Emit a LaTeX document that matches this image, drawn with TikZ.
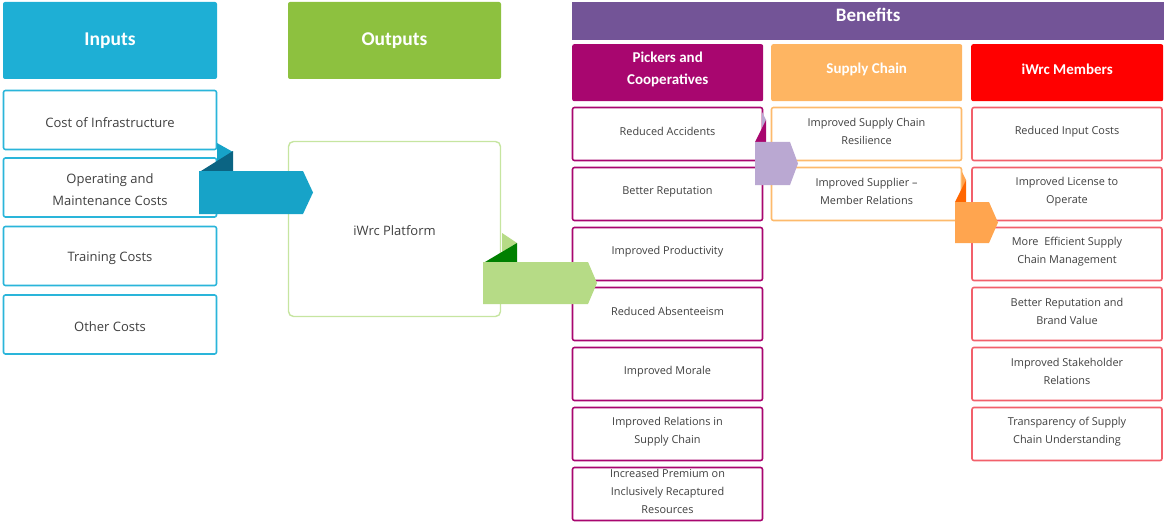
\documentclass[tikz,border=0pt]{standalone}
\usepackage{fontspec}
\setmainfont{Open Sans}
\newfontfamily\headfont{Carlito}
\usepackage{tikz}
\usetikzlibrary{positioning,calc}

\definecolor{inblue}{HTML}{1EAFD5}
\definecolor{inblueline}{HTML}{2AB5DA}
\definecolor{arrblue}{HTML}{17A3C8}
\definecolor{arrbluedark}{HTML}{0B6483}
\definecolor{outgreen}{HTML}{8DC13F}
\definecolor{outgreenline}{HTML}{C6E5A0}
\definecolor{arrgreen}{HTML}{B6DB86}
\definecolor{arrgreendark}{HTML}{008000}
\definecolor{benpurple}{HTML}{735497}
\definecolor{arrpurple}{HTML}{BAA8D2}
\definecolor{pickmag}{HTML}{A8066F}
\definecolor{supplyor}{HTML}{FEB562}
\definecolor{supplyline}{HTML}{FDBA6C}
\definecolor{arrorange}{HTML}{FFA54F}
\definecolor{arrorangedark}{HTML}{FF6600}
\definecolor{memred}{HTML}{FF0000}
\definecolor{memline}{HTML}{F2606B}
\definecolor{bodytext}{HTML}{404040}

\tikzset{
  head/.style={rectangle, rounded corners=2pt, text=white, align=center,
    font=\headfont\bfseries\fontsize{15}{22}\selectfont, inner sep=0pt},
  cell/.style={rectangle, draw, line width=1.6pt, rounded corners=2pt, fill=white,
    text=bodytext, align=center, inner sep=0pt},
  intext/.style={text=bodytext, align=center, font=\fontsize{13}{22}\selectfont, yshift=-2.5pt},
  bentext/.style={text=bodytext, align=center, font=\fontsize{10.9}{18}\selectfont, yshift=2.5pt},
  incell/.style={cell, draw=inblueline, minimum width=213pt, minimum height=59pt},
  bencell/.style={cell, minimum width=190pt, minimum height=53pt},
}

\begin{document}
\begin{tikzpicture}[x=1pt, y=-1pt]
  \useasboundingbox (0,0) rectangle (1164,524);
  % Inputs
  \node[head, fill=inblue, minimum width=214pt, minimum height=77pt,
    font=\headfont\bfseries\fontsize{19.5}{20}\selectfont] (inputs) at (110,40.5) {Inputs};
  \node[incell, label={[intext]center:Cost of Infrastructure}] (in1) at (110,120) {};
  \node[incell, label={[intext]center:Operating and\\Maintenance Costs}] (in2) at (110,187.5) {};
  \node[incell, label={[intext]center:Training Costs}] (in3) at (110,256) {};
  \node[incell, label={[intext]center:Other Costs}] (in4) at (110,324.5) {};
  % Outputs
  \node[head, fill=outgreen, minimum width=213pt, minimum height=77pt,
    font=\headfont\bfseries\fontsize{19.5}{20}\selectfont] (outputs) at (394.5,40.5) {Outputs};
  \node[cell, draw=outgreenline, line width=1.4pt, rounded corners=5pt,
    minimum width=212pt, minimum height=175pt, label={[intext, yshift=0.5pt]center:iWrc Platform}]
    (platform) at (394.5,229) {};
  % Benefits
  \node[head, fill=benpurple, minimum width=592pt, minimum height=38pt, rounded corners=0pt,
    anchor=north west, label={[text=white, font=\headfont\bfseries\fontsize{19}{20}\selectfont,
    yshift=6pt]center:Benefits}] (benefits) at (572,2) {};
  \node[head, fill=pickmag, minimum width=191pt, minimum height=57pt, anchor=north west,
    label={[head, yshift=3pt]center:Pickers and\\Cooperatives}] (pickers) at (572,44) {};
  \node[head, fill=supplyor, minimum width=191pt, minimum height=57pt, anchor=north west,
    label={[head, yshift=3pt]center:Supply Chain}] (supply) at (771,44) {};
  \node[head, fill=memred, minimum width=192pt, minimum height=57pt, anchor=north west,
    label={[head, yshift=3pt]center:iWrc Members}] (members) at (971,44) {};
  % pickers column
  \foreach \txt [count=\i] in {Reduced Accidents, Better Reputation, Improved Productivity,
      Reduced Absenteeism, Improved Morale, {Improved Relations in\\Supply Chain},
      {Increased Premium on\\Inclusively Recaptured\\Resources}}
    \node[bencell, draw=pickmag, label={[bentext]center:\txt}] (pick\i) at (667.5,74+60*\i) {};
  % supply chain column
  \foreach \txt [count=\i] in {{Improved Supply Chain\\Resilience},
      {Improved Supplier --\\Member Relations}}
    \node[bencell, draw=supplyline, label={[bentext]center:\txt}] (sup\i) at (866.5,74+60*\i) {};
  % members column
  \foreach \txt [count=\i] in {Reduced Input Costs, {Improved License to\\Operate},
      {More~ Efficient Supply\\Chain Management}, {Better Reputation and\\Brand Value},
      {Improved Stakeholder\\Relations}, {Transparency of Supply\\Chain Understanding}}
    \node[bencell, draw=memline, label={[bentext]center:\txt}] (mem\i) at (1067,74+60*\i) {};
  % folded ribbon arrows
  \fill[arrblue] (217,143) -- (233,152) -- (217,162) -- cycle;
  \fill[arrbluedark] (201,171) -- (233,151) -- (233,171) -- cycle;
  \fill[arrblue] (199,171) -- (303,171) -- (313,192.5) -- (303,214) -- (199,214) -- cycle;
  \fill[arrgreen] (502,233) -- (517,243) -- (502,252) -- cycle;
  \fill[arrgreendark] (485,262) -- (517,243) -- (517,262) -- cycle;
  \fill[arrgreen] (483,262) -- (588,262) -- (597,283) -- (588,304) -- (483,304) -- cycle;
  \fill[arrpurple] (762,112) -- (766,120) -- (762,129) -- cycle;
  \fill[pickmag] (755,142) -- (766,120) -- (766,142) -- cycle;
  \fill[arrpurple] (755,142) -- (790,142) -- (798,163.5) -- (790,185) -- (755,185) -- cycle;
  \fill[arrorange] (962,172) -- (966,180) -- (962,189) -- cycle;
  \fill[arrorangedark] (955,202) -- (966,180) -- (966,202) -- cycle;
  \fill[arrorange] (955,202) -- (989,202) -- (998,222.5) -- (989,243) -- (955,243) -- cycle;
\end{tikzpicture}
\end{document}
